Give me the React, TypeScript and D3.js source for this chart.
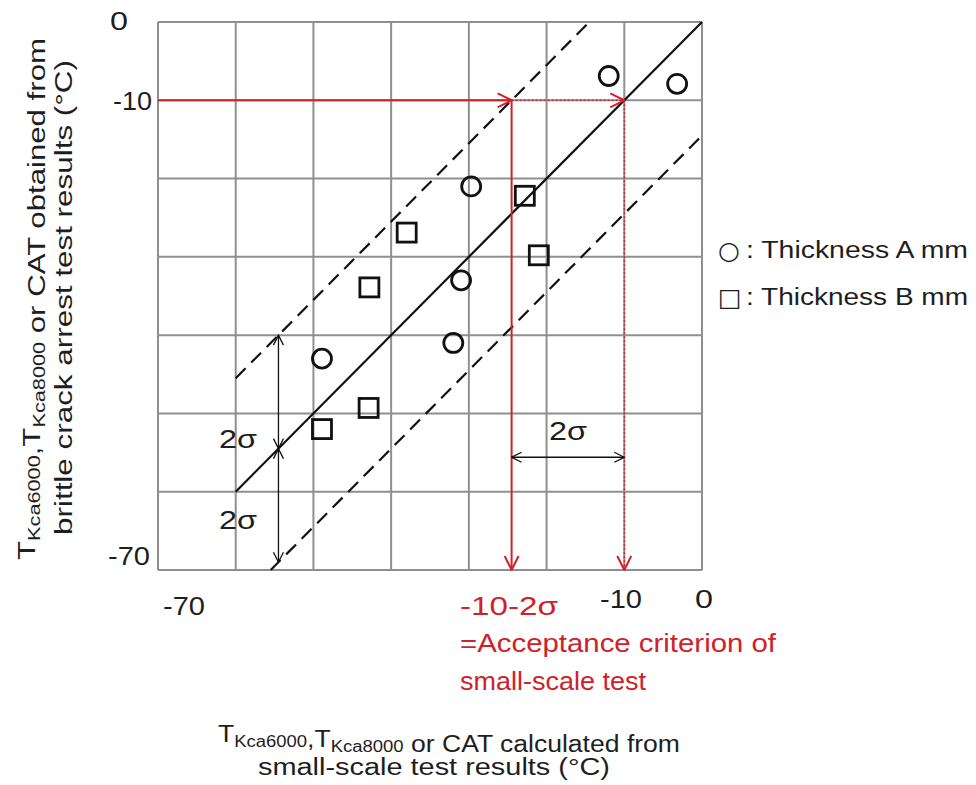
import React from 'react';
import * as d3 from 'd3';

// Values
const thicknessA = [
  { x: -12.0, y: -6.9 },
  { x: -3.2, y: -7.9 },
  { x: -29.7, y: -21.0 },
  { x: -31.0, y: -33.0 },
  { x: -32.0, y: -41.0 },
  { x: -48.9, y: -43.0 },
];
const thicknessB = [
  { x: -22.8, y: -22.2 },
  { x: -21.0, y: -29.8 },
  { x: -38.0, y: -26.9 },
  { x: -42.8, y: -33.9 },
  { x: -42.9, y: -49.3 },
  { x: -48.9, y: -52.0 },
];
const gridTicks = [-70, -60, -50, -40, -30, -20, -10, 0];
const twoSigma = 14.5;
const target = -10;
const sigmaArrowX = -54.5;
const sigmaArrowY = -55.6;

const W = 976;
const H = 785;
const FONT = 'Liberation Sans, Arial, sans-serif';
const RED = '#d0212a';
const INK = '#1e1e1e';

// text with a fixed drawn width, as the reference's lettering is set wide
const T: React.FC<{ x: number; y: number; w: number; fill?: string; size?: number; children: React.ReactNode }> = ({ x, y, w, fill = INK, size = 23, children }) => (
  <text x={x} y={y} fontSize={size} fill={fill} textLength={w} lengthAdjust="spacingAndGlyphs">{children}</text>
);

const App: React.FC = () => {
  const x = d3.scaleLinear().domain([-70, 0]).range([158, 702]);
  const y = d3.scaleLinear().domain([-70, 0]).range([570, 22]);
  const line = d3.line<[number, number]>().x(d => x(d[0])).y(d => y(d[1]));

  const accept = target - twoSigma;

  const sub = (s: string) => (
    <tspan fontSize={16} dy={5}>{s}</tspan>
  );
  const up = () => <tspan dy={-5}></tspan>;

  return (
    <svg width={W} height={H} style={{ position: 'absolute', left: 0, top: 0, background: '#fff' }} fontFamily={FONT}>
      <defs>
        <marker id="arrB" viewBox="0 0 12 12" refX={11} refY={6} markerWidth={12} markerHeight={12} markerUnits="userSpaceOnUse" orient="auto-start-reverse">
          <path d="M1,1 L11,6 L1,11" fill="none" stroke="#111" strokeWidth={1.3} />
        </marker>
        <marker id="arrR" viewBox="0 0 16 16" refX={15} refY={8} markerWidth={16} markerHeight={16} markerUnits="userSpaceOnUse" orient="auto">
          <path d="M1,1 L15,8 L1,15" fill="none" stroke={RED} strokeWidth={2} />
        </marker>
      </defs>

      {/* grid */}
      {gridTicks.map(t => (
        <g key={t}>
          <line x1={x(t)} x2={x(t)} y1={y(-70)} y2={y(0)} stroke="#8f8f8f" strokeWidth={2} />
          <line x1={x(-70)} x2={x(0)} y1={y(t)} y2={y(t)} stroke="#8f8f8f" strokeWidth={2} />
        </g>
      ))}

      {/* 1:1 line and 2 sigma band */}
      <path d={line([[-60, -60], [0, 0]]) || ''} stroke="#111" strokeWidth={2.2} fill="none" />
      <path d={line([[-60, -60 + twoSigma], [-twoSigma, 0]]) || ''} stroke="#111" strokeWidth={2.2} fill="none" strokeDasharray="14,8" />
      <path d={line([[-70 + twoSigma, -70], [0, -twoSigma]]) || ''} stroke="#111" strokeWidth={2.2} fill="none" strokeDasharray="14,8" />

      {/* red construction */}
      <line x1={x(-70)} y1={y(target)} x2={x(accept)} y2={y(target)} stroke={RED} strokeWidth={2} markerEnd="url(#arrR)" />
      <line x1={x(accept)} y1={y(target)} x2={x(target)} y2={y(target)} stroke={RED} strokeWidth={1.5} strokeDasharray="2,2" markerEnd="url(#arrR)" />
      <line x1={x(accept)} y1={y(target)} x2={x(accept)} y2={y(-70)} stroke={RED} strokeWidth={2} markerEnd="url(#arrR)" />
      <line x1={x(target)} y1={y(target)} x2={x(target)} y2={y(-70)} stroke={RED} strokeWidth={1.5} strokeDasharray="2,2" markerEnd="url(#arrR)" />

      {/* 2 sigma arrows */}
      <line x1={x(sigmaArrowX)} y1={y(sigmaArrowX + twoSigma)} x2={x(sigmaArrowX)} y2={y(sigmaArrowX)} stroke="#111" strokeWidth={1.3} markerStart="url(#arrB)" markerEnd="url(#arrB)" />
      <line x1={x(sigmaArrowX)} y1={y(sigmaArrowX)} x2={x(sigmaArrowX)} y2={y(sigmaArrowX - twoSigma)} stroke="#111" strokeWidth={1.3} markerStart="url(#arrB)" markerEnd="url(#arrB)" />
      <line x1={x(accept)} y1={y(sigmaArrowY)} x2={x(target)} y2={y(sigmaArrowY)} stroke="#111" strokeWidth={1.3} markerStart="url(#arrB)" markerEnd="url(#arrB)" />
      <T x={219} y={448} w={38} size={25}>2σ</T>
      <T x={219} y={529} w={38} size={25}>2σ</T>
      <T x={549} y={440} w={38} size={25}>2σ</T>

      {/* data */}
      {thicknessA.map((d, i) => (
        <circle key={'a' + i} cx={x(d.x)} cy={y(d.y)} r={9.5} fill="none" stroke="#111" strokeWidth={2.8} />
      ))}
      {thicknessB.map((d, i) => (
        <rect key={'b' + i} x={x(d.x) - 9.5} y={y(d.y) - 9.5} width={19} height={19} fill="none" stroke="#111" strokeWidth={2.8} />
      ))}

      {/* y tick labels */}
      <T x={110} y={30} w={18} size={25}>0</T>
      <T x={113} y={110} w={39} size={25}>-10</T>
      <T x={108} y={565} w={42} size={25}>-70</T>

      {/* x tick labels */}
      <T x={163} y={615} w={42} size={25}>-70</T>
      <T x={600} y={608} w={42} size={25}>-10</T>
      <T x={695} y={608} w={18} size={25}>0</T>
      <T x={460} y={615} w={98} fill={RED} size={26}>-10-2σ</T>
      <T x={460} y={652} w={316} fill={RED} size={26}>=Acceptance criterion of</T>
      <T x={460} y={690} w={186} fill={RED} size={26}>small-scale test</T>

      {/* legend */}
      <text x={718} y={259} fontSize={25} fill={INK} fontFamily="DejaVu Sans">○</text>
      <T x={746} y={258} w={222}>: Thickness A mm</T>
      <text x={718} y={306} fontSize={25} fill={INK} fontFamily="DejaVu Sans">□</text>
      <T x={746} y={305} w={222}>: Thickness B mm</T>

      {/* x title */}
      <T x={218} y={742} w={462}>
        T{sub('Kca6000')}{up()},T{sub('Kca8000')}{up()} or CAT calculated from
      </T>
      <T x={258} y={775} w={352}>small-scale test results (°C)</T>

      {/* y title */}
      <g transform="translate(35,560) rotate(-90)">
        <T x={0} y={0} w={522}>
          T{sub('Kca6000')}{up()},T{sub('Kca8000')}{up()} or CAT obtained from
        </T>
        <T x={25} y={37} w={475}>brittle crack arrest test results (°C)</T>
      </g>
    </svg>
  );
};

export default App;
